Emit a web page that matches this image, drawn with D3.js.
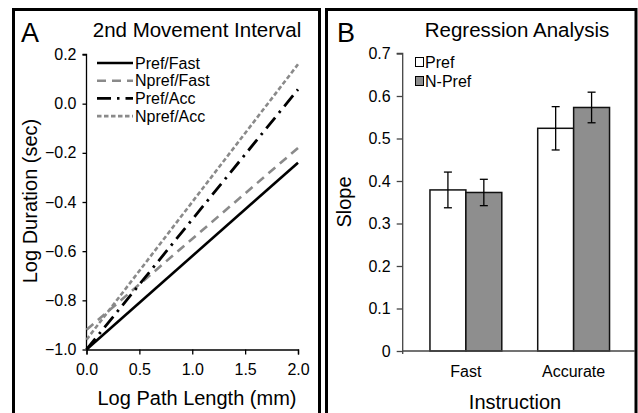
<!DOCTYPE html>
<html><head><meta charset="utf-8">
<script src="https://cdn.jsdelivr.net/npm/d3@7"></script>
<style>body{margin:0;background:#fff}svg{display:block}text{font-family:"Liberation Sans",Arial,sans-serif}</style>
</head><body><svg id="c" width="638" height="413"></svg>
<script>
// Panel A data
const lineNames = ["Pref/Fast","Npref/Fast","Pref/Acc","Npref/Acc"];
const lineX = [0, 2];
const prefFast = [-1.0, -0.24];
const nprefFast = [-0.92, -0.18];
const prefAcc = [-1.0, 0.058];
const nprefAcc = [-0.96, 0.16];
const xTicksA = [0, 0.5, 1.0, 1.5, 2.0];
const yTicksA = [-1.0, -0.8, -0.6, -0.4, -0.2, 0.0, 0.2];
// Panel B data
const categories = ["Fast","Accurate"];
const groups = ["Pref","N-Pref"];
const prefSlope = [0.379, 0.524];
const nprefSlope = [0.373, 0.573];
const prefErr = [0.042, 0.051];
const nprefErr = [0.031, 0.036];
const yTicksB = [0, 0.1, 0.2, 0.3, 0.4, 0.5, 0.6, 0.7];

const FF = "Liberation Sans, Arial, sans-serif";
const svg = d3.select("#c").attr("font-family",FF);
// panel borders
svg.append("rect").attr("x",13.5).attr("y",9.5).attr("width",306).attr("height",420)
  .attr("fill","none").attr("stroke","#000").attr("stroke-width",3);
svg.append("rect").attr("x",326.5).attr("y",9.5).attr("width",309.5).attr("height",420)
  .attr("fill","none").attr("stroke","#000").attr("stroke-width",3);

// ---------- Panel A ----------
const xA = d3.scaleLinear().domain([0,2]).range([86.5,298]);
const yA = d3.scaleLinear().domain([-1.0,0.2]).range([349.5,54.5]);
const gA = svg.append("g");
const yAxA = gA.append("g").attr("transform",`translate(${xA(0)},0)`)
  .call(d3.axisLeft(yA).tickValues(yTicksA).tickFormat(d3.format(".1f")).tickSizeOuter(0).tickSize(4).tickPadding(6));
const xAxA = gA.append("g").attr("transform",`translate(0,${yA(-1.0)})`)
  .call(d3.axisBottom(xA).tickValues(xTicksA).tickFormat(d3.format(".1f")).tickSizeOuter(0).tickSize(5).tickPadding(9));
[yAxA,xAxA].forEach(a=>{a.attr("font-family",FF).attr("font-size",16);
  a.selectAll("path,line").attr("stroke","#000").attr("stroke-width",1.3);
  a.selectAll("text").attr("fill","#000");});
yAxA.select("path.domain").attr("d",`M-4,${yA(0.2)}H0V${yA(-1.0)}`);

const styles = [
  {c:"#000", d:null, w:2.6},
  {c:"#8a8a8a", d:"9,6", w:2.6},
  {c:"#000", d:"14,6,2.5,6", w:2.8},
  {c:"#8a8a8a", d:"4.5,2.5", w:2.6}
];
const seriesA = [prefFast, nprefFast, prefAcc, nprefAcc];
const line = d3.line().x(d=>xA(d[0])).y(d=>yA(d[1]));
[0,1,2,3].forEach(i=>{
  gA.append("path").attr("d", line(lineX.map((x,j)=>[x, seriesA[i][j]])))
    .attr("fill","none").attr("stroke",styles[i].c).attr("stroke-width",styles[i].w)
    .attr("stroke-dasharray",styles[i].d);
});
// legend A
lineNames.forEach((n,i)=>{
  const y = 63 + i*17.7;
  gA.append("line").attr("x1",97).attr("x2",133).attr("y1",y).attr("y2",y)
    .attr("stroke",styles[i].c).attr("stroke-width",styles[i].w).attr("stroke-dasharray",styles[i].d);
  gA.append("text").attr("x",135).attr("y",y+5.5).attr("font-size",16).text(n);
});
gA.append("text").attr("x",21).attr("y",42).attr("font-size",27).text("A");
gA.append("text").attr("x",197).attr("y",37).attr("font-size",20.5).attr("text-anchor","middle").text("2nd Movement Interval");
gA.append("text").attr("x",197).attr("y",405).attr("font-size",20).attr("text-anchor","middle").text("Log Path Length (mm)");
gA.append("text").attr("transform","translate(37,201) rotate(-90)").attr("font-size",20).attr("text-anchor","middle").text("Log Duration (sec)");

// ---------- Panel B ----------
const yB = d3.scaleLinear().domain([0,0.7]).range([351,53.5]);
const x0 = d3.scaleBand().domain(categories).range([412,627.5]).paddingInner(1/3).paddingOuter(1/6);
const x1 = d3.scaleBand().domain(groups).range([0,x0.bandwidth()]);
const gB = svg.append("g");
const yAxB = gB.append("g").attr("transform","translate(402.7,0)")
  .call(d3.axisLeft(yB).tickValues(yTicksB).tickFormat(d=>d===0?"0":d3.format(".1f")(d)).tickSizeOuter(0).tickSize(6).tickPadding(6));
yAxB.attr("font-family",FF).attr("font-size",16);
yAxB.selectAll("path,line").attr("stroke","#444").attr("stroke-width",1.3);
yAxB.selectAll("text").attr("fill","#000");
yAxB.select("path.domain").attr("d",`M-6,${yB(0.7)}H0V${yB(0)+3}`);

const valsB = [prefSlope, nprefSlope];
const errsB = [prefErr, nprefErr];
const fills = ["#fff","#8e8e8e"];
categories.forEach((c,ci)=>{
  groups.forEach((g,gi)=>{
    const x = x0(c)+x1(g), w = x1.bandwidth(), v = valsB[gi][ci], e = errsB[gi][ci];
    gB.append("rect").attr("x",x).attr("y",yB(v)).attr("width",w).attr("height",yB(0)-yB(v))
      .attr("fill",fills[gi]).attr("stroke","#111").attr("stroke-width",1.5);
    const cx = x + w/2;
    gB.append("line").attr("x1",cx).attr("x2",cx).attr("y1",yB(v+e)).attr("y2",yB(v-e)).attr("stroke","#000").attr("stroke-width",1.3);
    [v+e, v-e].forEach(t=>gB.append("line").attr("x1",cx-4).attr("x2",cx+4).attr("y1",yB(t)).attr("y2",yB(t)).attr("stroke","#000").attr("stroke-width",1.3));
  });
});
// x axis B
gB.append("line").attr("x1",402.7).attr("x2",635).attr("y1",yB(0)).attr("y2",yB(0)).attr("stroke","#444").attr("stroke-width",1.3);
categories.forEach(c=>{
  gB.append("text").attr("x",x0(c)+x0.bandwidth()/2).attr("y",377).attr("font-size",16).attr("text-anchor","middle").text(c);
});
// legend B
groups.forEach((g,i)=>{
  const y = 62 + i*19;
  gB.append("rect").attr("x",415.5).attr("y",y-4.5).attr("width",8).attr("height",9)
    .attr("fill",fills[i]).attr("stroke","#000").attr("stroke-width",1);
  gB.append("text").attr("x",425).attr("y",y+6).attr("font-size",16).text(g);
});
gB.append("text").attr("x",337).attr("y",42).attr("font-size",27).text("B");
gB.append("text").attr("x",517).attr("y",37).attr("font-size",20.5).attr("text-anchor","middle").text("Regression Analysis");
gB.append("text").attr("x",515).attr("y",409).attr("font-size",20).attr("text-anchor","middle").text("Instruction");
gB.append("text").attr("transform","translate(351,202) rotate(-90)").attr("font-size",20).attr("text-anchor","middle").text("Slope");
</script></body></html>
